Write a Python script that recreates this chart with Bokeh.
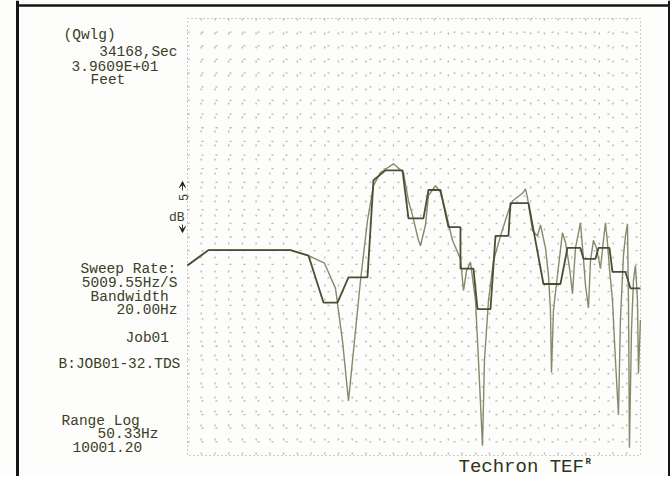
import math
from bokeh.plotting import figure
from bokeh.models import Label, Arrow, VeeHead, Range1d, LogScale, LinearScale
from bokeh.embed import file_html
from bokeh.resources import INLINE

# ---- data (frequency in Hz, level in dB, relative) ----
freq_resp = [50.3, 64.3, 167.6, 206.8, 249.3, 283.6, 307.7, 330.0, 349.9, 379.7,
             412.0, 442.0, 479.7, 558.3, 627.6, 665.2, 696.9, 747.4, 765.1, 811.3,
             840.2, 911.8, 966.7, 1024.7, 1112, 1221, 1265, 1310, 1372, 1455,
             1507, 1579, 1616, 1694, 1795, 1949, 2139, 2242, 2520, 2610,
             2671, 2831, 3002, 3109, 3296, 3413, 3493, 3535, 3618, 3791,
             4020, 4163, 4311, 4413, 4518, 4679, 4960, 5137, 5258, 5446,
             5575, 5773, 5980, 6265, 6488, 6641, 6799, 6960, 7208, 7466,
             7730, 7912, 8196, 8390, 8588, 8690, 8790, 8999, 9211, 9429,
             9652, 9766, 9995]
level_resp = [-22.6, -21.2, -21.2, -21.7, -22.4, -24.7, -29.5, -35.0, -30.4, -24.0,
              -18.5, -15.3, -14.1, -13.3, -14.1, -16.7, -18.0, -20.3, -20.8, -18.9,
              -16.2, -15.3, -15.9, -17.6, -20.3, -22.0, -24.9, -23.1, -22.3, -25.8,
              -31.3, -39.1, -31.3, -25.8, -22.2, -19.9, -17.6, -16.7, -16.0, -15.6,
              -16.4, -19.4, -19.9, -18.9, -21.0, -23.5, -26.7, -32.4, -26.7, -23.5,
              -19.6, -20.5, -22.2, -23.5, -25.2, -21.0, -18.7, -22.0, -24.4, -26.5,
              -22.2, -20.3, -21.0, -22.9, -20.3, -18.7, -20.5, -22.9, -25.8, -31.3,
              -36.3, -27.6, -21.7, -19.9, -18.8, -25.8, -39.3, -28.6, -24.0, -22.6,
              -25.8, -32.5, -27.6]

freq_band = [50.3, 64.3, 167.6, 206.8, 246.4, 290.3, 330.0, 412.0, 442.0, 508.5,
             620.2, 665.2, 792.4, 840.2, 966.7, 1061, 1221, 1221, 1421, 1490,
             1734, 1838, 2139, 2190, 2703, 3219, 3926, 4261, 4960, 5137,
             5909, 6120, 6960, 7208, 8390, 8895, 9995]
level_band = [-22.6, -21.2, -21.2, -21.7, -26.0, -26.0, -23.7, -23.7, -14.8, -13.9,
              -13.9, -18.3, -18.3, -15.7, -15.7, -19.1, -19.1, -22.9, -22.9, -26.6,
              -26.6, -19.9, -19.9, -16.9, -16.9, -24.3, -24.3, -21.0, -21.0, -22.0,
              -22.0, -21.0, -21.0, -23.2, -23.2, -24.7, -24.7]

info_lines = ["(Qwlg)", "34168,Sec", "3.9609E+01", "Feet",
              "Sweep Rate:", "5009.55Hz/S", "Bandwidth", "20.00Hz",
              "Job01", "B:JOB01-32.TDS", "Range Log", "50.33Hz", "10001.20"]

F_MIN, F_MAX = 50.33, 10001.20
DB_TOP, DB_BOT = 0.0, -40.0

# ---- layout (page pixels) ----
OFF = 0            # page position of canvas origin
W, H = 670, 476
FL, FR, FT, FB = 187, 640, 18, 455
LX0, LX1 = math.log10(F_MIN), math.log10(F_MAX)


def X(px):
    return 10 ** (LX0 + (px - FL) / (FR - FL) * (LX1 - LX0))


def Y(py):
    return DB_TOP + (py - FT) / (FB - FT) * (DB_BOT - DB_TOP)


def c(v):
    return v - OFF


p = figure(width=W, height=H, output_backend="svg", toolbar_location=None,
           x_range=Range1d(c(OFF), c(OFF + W)), y_range=Range1d(c(OFF + H), c(OFF)),
           x_axis_location=None, y_axis_location=None, min_border=0)
p.xgrid.visible = False
p.ygrid.visible = False
p.extra_x_ranges = {"f": Range1d(X(OFF), X(OFF + W))}
p.extra_x_scales = {"f": LogScale()}
p.extra_y_ranges = {"db": Range1d(Y(OFF + H), Y(OFF))}
p.extra_y_scales = {"db": LinearScale()}
p.background_fill_color = "#fdfdfb"
p.border_fill_color = "#fdfdfb"
p.outline_line_color = None

# dotted grid of the analyser screen
NCOL, NROW = 33, 32
gx = [FL + i * (FR - FL) / NCOL for i in range(1, NCOL)]
gy = [FT + i * (FB - FT) / NROW for i in range(1, NROW)]
GRID = "#b2b4ab"
p.multi_line(xs=[[c(FL), c(FR)] for _ in gy], ys=[[c(v), c(v)] for v in gy],
             line_color=GRID, line_width=1.3, line_dash="2 12")
p.multi_line(xs=[[c(v), c(v)] for v in gx], ys=[[c(FT), c(FB)] for _ in gx],
             line_color=GRID, line_width=1.3, line_dash="2 12")
p.multi_line(xs=[[c(FL), c(FR), c(FR), c(FL), c(FL)]], ys=[[c(FT), c(FT), c(FB), c(FB), c(FT)]],
             line_color="#9a9c94", line_width=1, line_dash="1 3")

p.line(freq_resp, level_resp, line_color="#868a6c", line_width=1.4,
       x_range_name="f", y_range_name="db")
p.line(freq_band, level_band, line_color="#4a4f33", line_width=1.8,
       x_range_name="f", y_range_name="db")

TXT = "#3a4026"
FONT = "Liberation Mono"
pos = [(63, 34, "left"), (177, 51, "right"), (158, 66, "right"), (90, 79, "left"),
       (80, 268, "left"), (177, 282, "right"), (90, 296, "left"), (177, 309, "right"),
       (125, 337, "left"), (58, 363, "left"), (61, 420, "left"), (158, 433, "right"),
       (72, 446, "left")]
for t, (px, py, al) in zip(info_lines, pos):
    p.add_layout(Label(x=c(px), y=c(py), text=t, text_align=al, text_baseline="middle",
                       text_font=FONT, text_font_size="14.5px", text_color=TXT))

# 5 dB scale marker
p.add_layout(Label(x=c(183), y=c(197), text="5", angle=math.pi / 2, text_align="center",
                   text_baseline="middle", text_font=FONT, text_font_size="12px", text_color=TXT))
p.add_layout(Label(x=c(184), y=c(217), text="dB", text_align="right",
                   text_baseline="middle", text_font=FONT, text_font_size="13px", text_color=TXT))
p.add_layout(Arrow(x_start=c(182), y_start=c(190), x_end=c(182), y_end=c(181),
                   line_color=TXT, line_width=1,
                   end=VeeHead(size=6, line_color=TXT, line_width=1)))
p.add_layout(Arrow(x_start=c(182), y_start=c(224), x_end=c(182), y_end=c(232),
                   line_color=TXT, line_width=1,
                   end=VeeHead(size=6, line_color=TXT, line_width=1)))

# brand
p.add_layout(Label(x=c(458), y=c(466), text="Techron TEF", text_align="left",
                   text_baseline="middle", text_font=FONT, text_font_size="19px",
                   text_color="#2e3320"))
p.add_layout(Label(x=c(585), y=c(461), text="R", text_align="left",
                   text_baseline="middle", text_font=FONT, text_font_size="9px",
                   text_font_style="bold", text_color="#2e3320"))

# scanned page border lines
p.segment(x0=[c(17), c(17), c(669)], y0=[c(0), c(5), c(0)],
          x1=[c(17), c(672), c(669)], y1=[c(480), c(5), c(480)],
          line_color="#151515", line_width=[3, 2.5, 3])

open("out.html", "w").write(file_html(p, INLINE))
